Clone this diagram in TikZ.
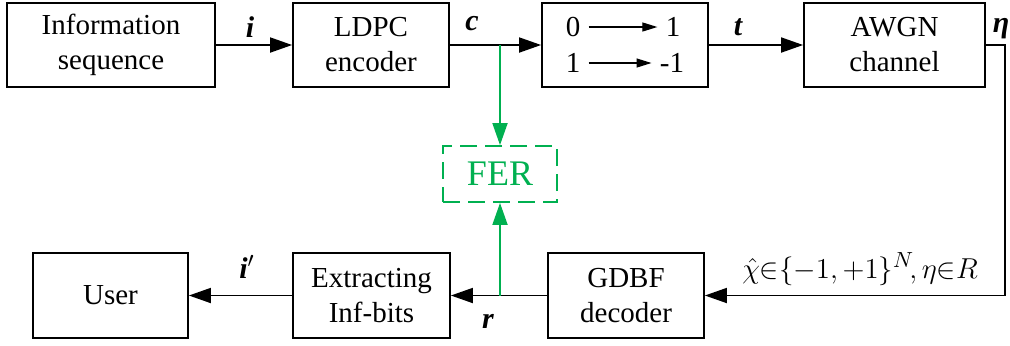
\documentclass[tikz,border=0pt]{standalone}
\usepackage{amsmath}
\usepackage{fontspec}
\setmainfont{Liberation Serif}
\usetikzlibrary{arrows.meta}
\definecolor{fergreen}{RGB}{0,176,80}
\tikzset{
  block/.style={draw, line width=0.9pt, inner sep=0pt, align=center,
    font=\fontsize{14.5}{17.5}\selectfont},
  flow/.style={line width=0.9pt, -{Triangle[length=11pt,width=7.5pt]}},
  gflow/.style={flow, draw=fergreen, fill=fergreen},
  small/.style={line width=0.6pt, -{Triangle[length=7.5pt,width=4.5pt]}},
  lbl/.style={inner sep=1pt, font=\fontsize{15}{18}\selectfont},
  digit/.style={inner sep=4pt, font=\fontsize{14.5}{17.5}\selectfont}
}
\begin{document}
\begin{tikzpicture}[x=0.5pt, y=-0.5pt]
  \useasboundingbox (0,0) rectangle (1010,345);
  % upper row
  \node[block, minimum width=104pt, minimum height=42pt] (info) at (111,45) {Information\\sequence};
  \node[block, minimum width=78pt, minimum height=42pt] (ldpc) at (371,45) {LDPC\\encoder};
  \node[block, minimum width=83pt, minimum height=42pt] (map) at (625,45) {};
  \node[block, minimum width=90.5pt, minimum height=42pt] (awgn) at (894.5,45) {AWGN\\channel};
  % lower row
  \node[block, minimum width=77.5pt, minimum height=42.5pt] (user) at (110.5,295.5) {User};
  \node[block, minimum width=78.5pt, minimum height=42.5pt] (extr) at (371.5,295.5) {Extracting\\Inf-bits};
  \node[block, minimum width=78pt, minimum height=42.5pt] (gdbf) at (626,295.5) {GDBF\\decoder};
  \node[draw=fergreen, line width=0.9pt, dash pattern=on 8.5pt off 4pt, inner sep=0pt,
    minimum width=57pt, minimum height=28pt, text=fergreen,
    font=\fontsize{18}{21}\selectfont] (fer) at (500,174) {FER};
  % mapping
  \node[digit] (za) at (573,27) {0};
  \node[digit] (oa) at (673,27) {1};
  \node[digit] (zb) at (573,63) {1};
  \node[digit] (ob) at (672,63) {-1};
  \draw[small] (za) -- (oa);
  \draw[small] (zb) -- (ob);
  % connectors
  \coordinate (turn) at (1005,295.5);
  \draw[flow] (info) -- (ldpc);
  \draw[flow] (ldpc) -- (map);
  \draw[flow] (map) -- (awgn);
  \draw[flow] (awgn.east) -| (turn) -- (gdbf.east);
  \draw[flow] (gdbf) -- (extr);
  \draw[flow] (extr) -- (user);
  \draw[gflow] (fer |- ldpc.east) -- (fer.north);
  \draw[gflow] (fer |- gdbf.west) -- (fer.south);
  % labels
  \node[lbl] (li) at (250,27) {\bfseries\itshape i};
  \node[lbl] (lc) at (472,24) {\bfseries\itshape c};
  \node[lbl] (lt) at (738,27) {\bfseries\itshape t};
  \node[lbl] (leta) at (1001,29) {\bfseries\itshape η};
  \node[lbl] (lx) at (860,269) {$\hat{\chi}{\in}\{-1,+1\}^N\!,\eta{\in}R$};
  \node[lbl] (lip) at (247,267) {{\bfseries\itshape i}$'$};
  \node[lbl] (lr) at (488,321) {\bfseries\itshape r};
\end{tikzpicture}
\end{document}
